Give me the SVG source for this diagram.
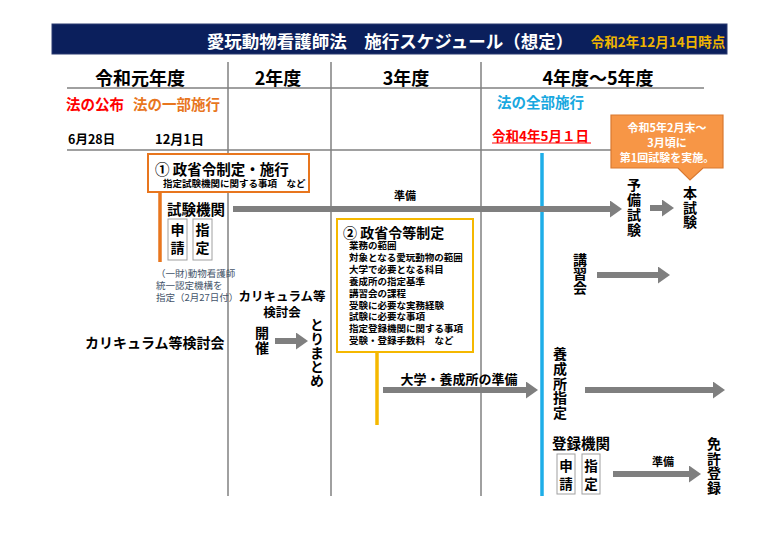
<svg xmlns="http://www.w3.org/2000/svg" width="768" height="536" viewBox="0 0 768 536">
<style>
text{font-family:"Noto Sans CJK JP","Liberation Sans",sans-serif;font-weight:bold;fill:#000;dominant-baseline:central}
.grid{stroke:#808080;stroke-width:1.5;fill:none}
.arr{stroke:#7f7f7f;stroke-width:6;fill:none}
.sbox{fill:#fff;stroke:#a0a0a0;stroke-width:1}
.vt{font-size:14px;writing-mode:vertical-rl;text-orientation:upright}
</style>
<defs>
<marker id="ah" markerWidth="12" markerHeight="17" refX="0" refY="8.5" orient="auto" markerUnits="userSpaceOnUse">
<path d="M0,0 L12,8.5 L0,17 Z" fill="#7f7f7f"/>
</marker>
</defs>
<rect width="768" height="536" fill="#fff"/>

<g id="header">
<rect x="52" y="24" width="675" height="30" fill="#0b1f5c" stroke="#2a3a70" stroke-width="1"/>
<text x="390" y="40" font-size="17.5" style="fill:#fff" text-anchor="middle">愛玩動物看護師法　施行スケジュール（想定）</text>
<text x="658" y="41" font-size="13.5" style="fill:#f0b400" text-anchor="middle">令和2年12月14日時点</text>
</g>

<g id="grid">
<line class="grid" x1="67" y1="88" x2="704" y2="88"/>
<line class="grid" x1="67" y1="150" x2="611" y2="150"/>
<line class="grid" x1="228" y1="62" x2="228" y2="496"/>
<line class="grid" x1="331" y1="62" x2="331" y2="496"/>
<line class="grid" x1="481" y1="62" x2="481" y2="496"/>
</g>

<g id="years">
<text x="140" y="77" font-size="18" text-anchor="middle">令和元年度</text>
<text x="278" y="77" font-size="18" text-anchor="middle">2年度</text>
<text x="406" y="77" font-size="18" text-anchor="middle">3年度</text>
<text x="598" y="77" font-size="18" text-anchor="middle">4年度～5年度</text>
</g>

<g id="milestones">
<text x="66" y="103" font-size="14.5" style="fill:#ff0000">法の公布</text>
<text x="133" y="103" font-size="14.5" style="fill:#e8761e">法の一部施行</text>
<text x="497" y="101" font-size="14.5" style="fill:#18a8e0">法の全部施行</text>
<text x="68" y="138" font-size="12.5">6月28日</text>
<text x="155" y="138" font-size="13">12月1日</text>
<text x="492" y="135" font-size="13.5" style="fill:#ff0000">令和4年5月１日</text>
<line x1="492" y1="143" x2="591" y2="143" stroke="#ff0000" stroke-width="1.2"/>
</g>

<g id="callout">
<path d="M611,115 H723 V168 H703 L690,180 L678,168 H611 Z" fill="#f79646" stroke="#d9782f" stroke-width="1.2"/>
<text font-size="11" text-anchor="middle" style="fill:#fff"><tspan x="667" y="127">令和5年2月末～</tspan><tspan x="667" y="142">3月頃に</tspan><tspan x="667" y="157">第1回試験を実施。</tspan></text>
</g>

<g id="lifelines">
<line x1="160" y1="192" x2="160" y2="262" stroke="#e8761e" stroke-width="3.5"/>
<line x1="377" y1="352" x2="377" y2="425" stroke="#f5b800" stroke-width="3.5"/>
<line x1="542" y1="153" x2="542" y2="496" stroke="#1eaee8" stroke-width="3.5"/>
</g>

<g id="node-ordinance1">
<rect x="148" y="154" width="161" height="38" fill="#fff" stroke="#e8761e" stroke-width="2"/>
<text><tspan x="155" y="168" font-size="14.5">① 政省令制定・施行</tspan><tspan x="163" y="183" font-size="9.5">指定試験機関に関する事項　など</tspan></text>
</g>

<g id="node-exam-body">
<text x="167" y="208" font-size="14.5">試験機関</text>
<rect class="sbox" x="168" y="219" width="19" height="41"/>
<text class="vt" x="177.5" y="223" letter-spacing="4">申請</text>
<rect class="sbox" x="193" y="219" width="19" height="41"/>
<text class="vt" x="202.5" y="223" letter-spacing="4">指定</text>
<text font-size="9.5" style="fill:#44546a;font-weight:normal"><tspan x="156" y="273">（一財)動物看護師</tspan><tspan x="156" y="285">統一認定機構を</tspan><tspan x="156" y="297">指定（2月27日付）</tspan></text>
</g>

<g id="node-ordinance2">
<rect x="337" y="219" width="136" height="133" fill="#fff" stroke="#f5b800" stroke-width="2"/>
<text><tspan x="343" y="232" font-size="14">② 政省令等制定</tspan><tspan font-size="9.5" x="349" y="245">業務の範囲</tspan><tspan font-size="9.5" x="349" y="257">対象となる愛玩動物の範囲</tspan><tspan font-size="9.5" x="349" y="269">大学で必要となる科目</tspan><tspan font-size="9.5" x="349" y="281">養成所の指定基準</tspan><tspan font-size="9.5" x="349" y="293">講習会の課程</tspan><tspan font-size="9.5" x="349" y="305">受験に必要な実務経験</tspan><tspan font-size="9.5" x="349" y="316">試験に必要な事項</tspan><tspan font-size="9.5" x="349" y="328">指定登録機関に関する事項</tspan><tspan font-size="9.5" x="349" y="340">受験・登録手数料　など</tspan></text>
</g>

<g id="node-curriculum">
<text x="85" y="342" font-size="14">カリキュラム等検討会</text>
<text font-size="12.5" text-anchor="middle"><tspan x="282" y="295">カリキュラム等</tspan><tspan x="282" y="311">検討会</tspan></text>
<text class="vt" x="262" y="326" letter-spacing="1">開催</text>
<text class="vt" x="317" y="318">とりまとめ</text>
</g>

<g id="node-exams">
<text class="vt" x="634" y="178" letter-spacing="1">予備試験</text>
<text class="vt" x="690" y="186" letter-spacing="0.5">本試験</text>
<text class="vt" x="580" y="253">講習会</text>
</g>

<g id="node-schools">
<text x="459" y="378" font-size="13" text-anchor="middle">大学・養成所の準備</text>
<text class="vt" x="560" y="347" letter-spacing="0.6">養成所指定</text>
</g>

<g id="node-registration">
<text x="552" y="442" font-size="14.5">登録機関</text>
<rect class="sbox" x="557" y="454" width="18" height="40"/>
<text class="vt" x="566" y="459" style="font-size:13.5px" letter-spacing="4.5">申請</text>
<rect class="sbox" x="582" y="454" width="18" height="40"/>
<text class="vt" x="591" y="459" style="font-size:13.5px" letter-spacing="4.5">指定</text>
<text class="vt" x="714" y="437" letter-spacing="0.5">免許登録</text>
</g>

<g id="connectors">
<line class="arr" x1="233" y1="209" x2="610" y2="209" marker-end="url(#ah)"/>
<text x="405" y="195" font-size="11" text-anchor="middle">準備</text>
<line class="arr" x1="650" y1="208" x2="662" y2="208" marker-end="url(#ah)"/>
<line class="arr" x1="597" y1="275" x2="658" y2="275" marker-end="url(#ah)"/>
<line class="arr" x1="275" y1="341" x2="296" y2="341" marker-end="url(#ah)"/>
<line class="arr" x1="383" y1="390" x2="526" y2="390" marker-end="url(#ah)"/>
<line class="arr" x1="585" y1="390" x2="713" y2="390" marker-end="url(#ah)"/>
<line class="arr" x1="613" y1="474" x2="689" y2="474" marker-end="url(#ah)"/>
<text x="663" y="461" font-size="11" text-anchor="middle">準備</text>
</g>
</svg>
